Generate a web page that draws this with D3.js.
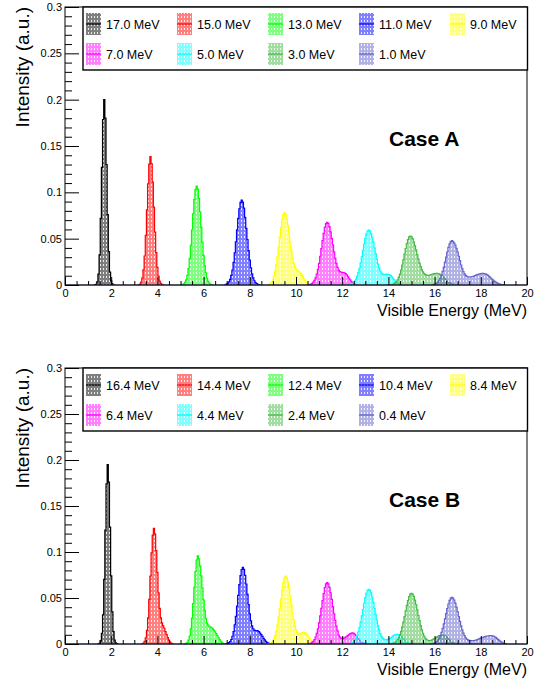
<!DOCTYPE html>
<html><head><meta charset="utf-8">
<script src="https://cdn.jsdelivr.net/npm/d3@7"></script>
<style>
body{margin:0;background:#fff}
svg{display:block}
text{font-family:"Liberation Sans",Arial,Helvetica,sans-serif}
</style>
</head><body>
<svg id="chart" width="540" height="682"></svg>
<script>
// ---------------- data ----------------
const binWidth = 0.05;           // MeV
const xTickValues = [0,2,4,6,8,10,12,14,16,18,20];
const yTickValues = [0,0.05,0.1,0.15,0.2,0.25,0.3];
const yTickLabels = ["0","0.05","0.1","0.15","0.2","0.25","0.3"];
const seriesColors = ["#000000","#ff0000","#00ff00","#0000ff","#ffff00","#ff00ff","#00ffff","#44bb44","#6464cc"];

const labelsA = ["17.0 MeV","15.0 MeV","13.0 MeV","11.0 MeV","9.0 MeV","7.0 MeV","5.0 MeV","3.0 MeV","1.0 MeV"];
const labelsB = ["16.4 MeV","14.4 MeV","12.4 MeV","10.4 MeV","8.4 MeV","6.4 MeV","4.4 MeV","2.4 MeV","0.4 MeV"];

// lower edge of the first bin of each histogram (MeV)
const startsA = [1.275, 3.175, 5.075, 6.925, 8.775, 10.575, 12.275, 14.075, 15.875];
const startsB = [1.425, 3.325, 5.175, 6.975, 8.775, 10.575, 12.275, 14.075, 15.825];

// Case A
const a17 = [0.0001,0.0008,0.0034,0.0118,0.0326,0.072,0.127,0.1786,0.200,0.180,0.130,0.076,0.036,0.014,0.0045,0.0012,0.0002];
const a15 = [0.0004,0.0011,0.0031,0.0075,0.0163,0.0313,0.0535,0.0812,0.1091,0.1305,0.1385,0.131,0.111,0.084,0.057,0.035,0.019,0.0095,0.0042,0.0017,0.0006,0.0002];
const a13 = [0.0006,0.0013,0.0028,0.0055,0.0103,0.0178,0.0286,0.0428,0.0596,0.0769,0.0923,0.103,0.1068,0.1035,0.0935,0.079,0.0625,0.046,0.032,0.021,0.013,0.0075,0.004,0.002,0.0009,0.0003];
const a11 = [0.0005,0.001,0.0019,0.0035,0.0061,0.0103,0.0162,0.0244,0.0347,0.0467,0.0595,0.0719,0.0823,0.0892,0.0917,0.0895,0.083,0.073,0.061,0.049,0.037,0.027,0.0185,0.012,0.0076,0.0046,0.0027,0.0015,0.0008,0.0003];
const a9  = [0.0005,0.001,0.0019,0.0034,0.0059,0.0096,0.0149,0.022,0.0308,0.0409,0.0516,0.0619,0.0704,0.076,0.078,0.0764,0.0715,0.0645,0.0557,0.0463,0.0375,0.0299,0.024,0.0199,0.0174,0.0159,0.0149,0.014,0.0126,0.0109,0.0088,0.0065,0.0046,0.003,0.0018,0.001,0.0005];
const a7  = [0.0005,0.001,0.0017,0.003,0.0049,0.0077,0.0117,0.0169,0.0234,0.031,0.0393,0.0479,0.0557,0.0621,0.0663,0.0677,0.0665,0.0629,0.0573,0.0504,0.0432,0.0358,0.029,0.0233,0.0191,0.0161,0.0145,0.0138,0.0136,0.0134,0.0131,0.0122,0.0109,0.0091,0.0073,0.0055,0.0039,0.0026,0.0016,0.001,0.0005];
const a5  = [0.0003,0.0005,0.0009,0.0016,0.0026,0.0041,0.0063,0.0093,0.0133,0.0181,0.024,0.0305,0.0374,0.0441,0.0502,0.0551,0.0582,0.0593,0.0584,0.0556,0.0515,0.0462,0.0401,0.0339,0.028,0.0227,0.0184,0.0151,0.0129,0.0118,0.0113,0.0113,0.0115,0.0117,0.0116,0.011,0.0101,0.0087,0.0073,0.0058,0.0043,0.0031,0.0021,0.0014,0.0008,0.0004];
const a3  = [0.0003,0.0005,0.0008,0.0014,0.0023,0.0037,0.0056,0.0083,0.0118,0.0162,0.0214,0.0272,0.0333,0.0394,0.0448,0.0491,0.0519,0.0529,0.0522,0.05,0.0467,0.0425,0.0378,0.0328,0.028,0.0236,0.0198,0.0166,0.0141,0.0124,0.0112,0.0106,0.0104,0.0105,0.0108,0.0112,0.0116,0.012,0.0123,0.0125,0.0126,0.0124,0.012,0.0113,0.0104,0.0093,0.008,0.0067,0.0054,0.0042,0.0031,0.0022,0.0015,0.001,0.0006,0.0003];
const a1  = [0.0002,0.0004,0.0007,0.0013,0.0021,0.0033,0.0051,0.0075,0.0107,0.0146,0.0193,0.0246,0.0301,0.0356,0.0405,0.0444,0.0469,0.0478,0.0471,0.0455,0.043,0.0396,0.0355,0.031,0.0262,0.0216,0.0176,0.0144,0.0119,0.0103,0.0094,0.0089,0.0087,0.0087,0.0089,0.0092,0.0096,0.0101,0.0106,0.0111,0.0116,0.012,0.0123,0.0125,0.0126,0.0124,0.012,0.0114,0.0106,0.0096,0.0085,0.0073,0.0061,0.005,0.004,0.0031,0.0023,0.0017,0.0012,0.0008,0.0005,0.0003];

// Case B
const b16 = [0.0001,0.0008,0.0033,0.0115,0.0318,0.0702,0.1238,0.1741,0.195,0.176,0.127,0.074,0.035,0.0135,0.0043,0.0012,0.0003];
const b14 = [0.0003,0.001,0.0028,0.0068,0.0148,0.0284,0.0485,0.0737,0.0991,0.1184,0.1257,0.1196,0.1014,0.0779,0.0555,0.0387,0.0284,0.0229,0.0198,0.0171,0.0136,0.0103,0.007,0.0042,0.0023,0.001,0.0004];
const b12 = [0.0003,0.0007,0.0018,0.0042,0.0087,0.0165,0.0282,0.0438,0.0616,0.0788,0.0911,0.0957,0.0925,0.085,0.074,0.061,0.048,0.0365,0.028,0.0228,0.0205,0.0193,0.0184,0.0175,0.0164,0.015,0.0132,0.0112,0.009,0.0068,0.0047,0.003,0.0017,0.0008,0.0003];
const b10 = [0.0003,0.0007,0.0014,0.0027,0.0049,0.0084,0.0136,0.0207,0.03,0.0411,0.0529,0.0646,0.0744,0.081,0.0833,0.0811,0.0747,0.0652,0.054,0.0429,0.0329,0.0251,0.0198,0.0166,0.0151,0.0146,0.0145,0.0142,0.0134,0.0119,0.0102,0.0082,0.0062,0.0044,0.0029,0.0018,0.0011,0.0006,0.0003];
const b8  = [0.0002,0.0005,0.0009,0.0018,0.0032,0.0056,0.0091,0.0142,0.0208,0.0292,0.0387,0.0489,0.0586,0.0667,0.072,0.0739,0.0723,0.0678,0.0608,0.0523,0.0432,0.0344,0.0265,0.0201,0.0154,0.0125,0.0111,0.0108,0.0113,0.0122,0.0127,0.0128,0.0122,0.011,0.0094,0.0076,0.0057,0.0041,0.0027,0.0017,0.001,0.0006,0.0003];
const b6  = [0.0005,0.0009,0.0017,0.0029,0.0048,0.0076,0.0115,0.0166,0.023,0.0305,0.0388,0.0472,0.0549,0.0612,0.0653,0.0667,0.0654,0.0616,0.0557,0.0485,0.0407,0.0329,0.0257,0.0195,0.0143,0.0098,0.0076,0.0064,0.006,0.0061,0.0066,0.0074,0.0083,0.0093,0.0103,0.0112,0.0118,0.012,0.0116,0.0106,0.0092,0.0075,0.0057,0.004,0.0026,0.0016,0.0009,0.0005,0.0002];
const b4  = [0.0003,0.0005,0.0009,0.0016,0.0026,0.0041,0.0064,0.0093,0.0133,0.0182,0.024,0.0306,0.0375,0.0443,0.0504,0.0553,0.0584,0.0595,0.0585,0.0556,0.051,0.0452,0.0388,0.0323,0.026,0.0203,0.0154,0.0112,0.0086,0.0067,0.0054,0.0047,0.0045,0.0047,0.0052,0.0059,0.0067,0.0076,0.0085,0.0093,0.0099,0.0103,0.0105,0.0103,0.0096,0.0086,0.0072,0.0057,0.0042,0.003,0.002,0.0013,0.0008,0.0004,0.0002];
const b2  = [0.0002,0.0004,0.0007,0.0012,0.0019,0.003,0.0047,0.0069,0.0099,0.0137,0.0184,0.0238,0.0297,0.0359,0.0419,0.0472,0.0515,0.0542,0.0551,0.0542,0.0517,0.0477,0.0427,0.037,0.031,0.0253,0.02,0.0155,0.0117,0.0087,0.0065,0.005,0.0041,0.0037,0.0037,0.004,0.0045,0.0052,0.006,0.0068,0.0076,0.0084,0.009,0.0095,0.0098,0.0098,0.0095,0.0089,0.008,0.0069,0.0056,0.0043,0.0031,0.0021,0.0013,0.0008,0.0004,0.0002];
const b0  = [0.0002,0.0004,0.0006,0.0011,0.0018,0.0028,0.0043,0.0064,0.0091,0.0126,0.0169,0.0219,0.0273,0.033,0.0385,0.0435,0.0474,0.0498,0.0507,0.0499,0.0478,0.0444,0.04,0.035,0.0297,0.0246,0.0198,0.0155,0.0119,0.009,0.0068,0.0053,0.0045,0.004,0.0038,0.0037,0.0037,0.0038,0.004,0.0043,0.0047,0.0052,0.0058,0.0063,0.0068,0.0073,0.0077,0.0081,0.0085,0.0087,0.0089,0.009,0.009,0.0089,0.0085,0.0079,0.0071,0.0061,0.005,0.0039,0.0029,0.002,0.0013,0.0008,0.0004,0.0002];

const valuesA = [a17,a15,a13,a11,a9,a7,a5,a3,a1];
const valuesB = [b16,b14,b12,b10,b8,b6,b4,b2,b0];

// ---------------- drawing ----------------
const svg = d3.select("#chart");
svg.append("rect").attr("width",540).attr("height",682).attr("fill","#fff");

const defs = svg.append("defs");
seriesColors.forEach((c,i)=>{
  const p = defs.append("pattern").attr("id","pat"+i)
    .attr("patternUnits","userSpaceOnUse").attr("width",3).attr("height",4);
  p.append("rect").attr("width",3).attr("height",4).attr("fill",c).attr("fill-opacity",0.5);
  p.append("rect").attr("x",1).attr("y",0).attr("width",1).attr("height",2).attr("fill","#fff").attr("fill-opacity",0.85);
});

const x = d3.scaleLinear().domain([0,20]).range([65,527]);

const panels = [
  {top:7,  bottom:285, starts:startsA, values:valuesA, labels:labelsA, caseText:"Case A"},
  {top:368,bottom:644, starts:startsB, values:valuesB, labels:labelsB, caseText:"Case B"}
];

panels.forEach((P,pi)=>{
  const y = d3.scaleLinear().domain([0,0.3]).range([P.bottom,P.top]);
  const g = svg.append("g");
  const clipId = "clip"+pi;
  defs.append("clipPath").attr("id",clipId).append("rect")
    .attr("x",x(0)).attr("y",P.top).attr("width",x(20)-x(0)).attr("height",P.bottom-P.top);

  const hg = g.append("g").attr("clip-path",`url(#${clipId})`);
  P.values.forEach((vals,i)=>{
    const s = P.starts[i];
    const pts = [[s,0]].concat(vals.map((v,k)=>[s+k*binWidth, v]));
    pts.push([s+vals.length*binWidth, 0]);
    const area = d3.area().curve(d3.curveStepAfter)
      .x(d=>x(d[0])).y0(y(0)).y1(d=>y(d[1]));
    const line = d3.line().curve(d3.curveStepAfter)
      .x(d=>x(d[0])).y(d=>y(d[1]));
    hg.append("path").attr("d",area(pts)).attr("fill",`url(#pat${i})`).attr("stroke","none");
    hg.append("path").attr("d",line(pts)).attr("fill","none")
      .attr("stroke",seriesColors[i]).attr("stroke-width",1.2).attr("stroke-linejoin","miter");
  });

  // frame
  g.append("rect").attr("x",x(0)).attr("y",P.top).attr("width",x(20)-x(0)).attr("height",P.bottom-P.top)
    .attr("fill","none").attr("stroke","#000").attr("stroke-width",1);
  g.append("line").attr("x1",x(0)).attr("x2",x(20)).attr("y1",P.bottom).attr("y2",P.bottom)
    .attr("stroke","#1e2a48").attr("stroke-width",1.2);

  // x axis: minor + major
  const xMinor = d3.range(0,20.01,0.5).filter(v=>Math.abs(v/2-Math.round(v/2))>1e-6);
  g.append("g").attr("transform",`translate(0,${P.bottom})`)
    .call(d3.axisBottom(x).tickValues(xMinor).tickSizeInner(-4).tickSizeOuter(0).tickFormat(""))
    .call(a=>a.select(".domain").remove());
  const xa = g.append("g").attr("transform",`translate(0,${P.bottom})`)
    .call(d3.axisBottom(x).tickValues(xTickValues).tickSizeInner(-8).tickSizeOuter(0).tickPadding(4).tickFormat(d3.format("d")));
  xa.select(".domain").remove();
  xa.selectAll("text").attr("font-size",11).attr("fill","#000").attr("font-family",'"Liberation Sans",Arial,sans-serif');
  xa.selectAll("line").attr("stroke","#000");

  // y axis: minor + major
  const yMinor = d3.range(0,0.3001,0.01).filter(v=>Math.abs(v/0.05-Math.round(v/0.05))>1e-6);
  g.append("g").attr("transform",`translate(${x(0)},0)`)
    .call(d3.axisLeft(y).tickValues(yMinor).tickSizeInner(-7).tickSizeOuter(0).tickFormat(""))
    .call(a=>a.select(".domain").remove());
  const ya = g.append("g").attr("transform",`translate(${x(0)},0)`)
    .call(d3.axisLeft(y).tickValues(yTickValues).tickSizeInner(-14).tickSizeOuter(0).tickPadding(3)
      .tickFormat((d,k)=>yTickLabels[k]));
  ya.select(".domain").remove();
  ya.selectAll("text").attr("font-size",11).attr("fill","#000").attr("font-family",'"Liberation Sans",Arial,sans-serif');
  ya.selectAll("line").attr("stroke","#000");

  // titles
  g.append("text").attr("transform",`translate(29,${P.top}) rotate(-90)`)
    .attr("text-anchor","end").attr("font-size",19).attr("fill","#000").text("Intensity (a.u.)");
  g.append("text").attr("x",x(20)).attr("y",P.bottom+31).attr("text-anchor","end")
    .attr("font-size",16).attr("fill","#000").text("Visible Energy (MeV)");
  g.append("text").attr("x",389).attr("y",P.top+139).attr("font-size",21).attr("font-weight","bold")
    .attr("fill","#000").text(P.caseText);

  // legend
  const lg = g.append("g");
  const lx0 = 83, lx1 = 527.5, ly0 = P.top, ly1 = P.top+63;
  lg.append("rect").attr("x",lx0).attr("y",ly0).attr("width",lx1-lx0).attr("height",ly1-ly0)
    .attr("fill","#fff").attr("stroke","#000").attr("stroke-width",1.4);
  const colX = [86,177,268,359,450];
  const rowY = [P.top+17, P.top+47];
  P.labels.forEach((lab,i)=>{
    const cx = colX[i%5], cy = rowY[Math.floor(i/5)];
    lg.append("rect").attr("x",cx).attr("y",cy-11).attr("width",15).attr("height",22)
      .attr("fill",`url(#pat${i})`);
    lg.append("line").attr("x1",cx).attr("x2",cx+15).attr("y1",cy).attr("y2",cy)
      .attr("stroke",seriesColors[i]).attr("stroke-width",1.3);
    lg.append("text").attr("x",cx+20).attr("y",cy+4.5).attr("font-size",12.5).attr("fill","#000").text(lab);
  });
});
</script>
</body></html>
